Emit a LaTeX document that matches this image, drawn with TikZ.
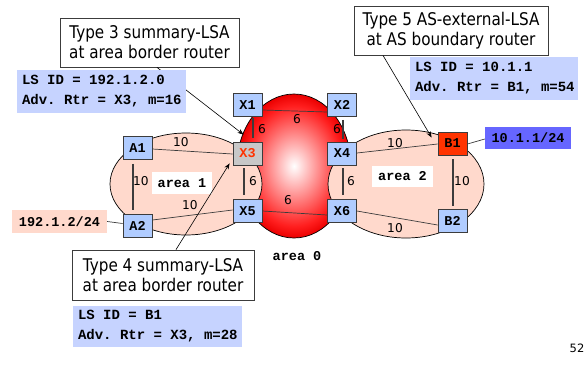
\documentclass[tikz,border=0pt]{standalone}
\usepackage{fontspec}
\setmainfont{DejaVu Sans}
\newfontfamily\callfont[FakeStretch=0.87]{DejaVu Sans}
\newfontfamily\lsamono{Liberation Mono}
\newcommand{\monob}[1]{\lsamono\bfseries\fontsize{#1}{20}\selectfont}
\newcommand{\ms}{\hspace*{0.6em}}
\usetikzlibrary{calc,arrows.meta}
\definecolor{peach}{RGB}{255,217,204}
\definecolor{infoblue}{RGB}{198,211,255}
\definecolor{routerblue}{RGB}{176,204,255}
\definecolor{netblue}{RGB}{102,102,255}
\definecolor{b1red}{RGB}{255,51,0}
\definecolor{x3gray}{RGB}{200,200,200}
\definecolor{x3text}{RGB}{255,51,0}
\definecolor{edgegray}{RGB}{60,60,60}
\definecolor{ballred}{RGB}{255,30,30}
\definecolor{balledge}{RGB}{235,0,0}
\pgfdeclareradialshading{redball}{\pgfpoint{0bp}{0bp}}{color(0bp)=(white); color(21bp)=(ballred); color(25bp)=(balledge); color(50bp)=(balledge)}
\begin{document}
\begin{tikzpicture}[x=1pt,y=-1pt,
  router/.style={draw=edgegray, line width=0.8pt, fill=routerblue, minimum width=29pt, minimum height=23pt, inner sep=0pt, font=\monob{13.5}},
  link/.style={draw=edgegray, line width=0.7pt},
  vlink/.style={draw=edgegray, line width=1.1pt},
  weight/.style={inner sep=0pt, text=black, font=\fontsize{12.2}{13}\selectfont},
  callout/.style={draw=edgegray, line width=0.8pt, fill=white, minimum height=49pt, inner sep=0pt, align=center, font=\callfont\fontsize{17.5}{20}\selectfont},
  info/.style={fill=infoblue, minimum height=43pt, inner xsep=5pt, inner ysep=0pt, align=left, font=\monob{14}},
  arealabel/.style={fill=white, inner sep=0pt, minimum height=22pt, font=\monob{13.5}},
  netlabel/.style={inner sep=0pt, minimum height=23pt, font=\monob{13.5}},
  callarrow/.style={draw=black, line width=0.6pt, -{Stealth[length=6pt,width=4.5pt]}}
]
\useasboundingbox (0,0) rectangle (586,365);

% area 0 backbone
\shade[shading=redball, draw=black, line width=0.7pt] (294,166) ellipse [x radius=57pt, y radius=72pt];
% areas 1 and 2
\draw[fill=peach, draw=black, line width=0.7pt] (186,184) ellipse [x radius=76pt, y radius=51pt];
\draw[fill=peach, draw=black, line width=0.7pt] (406,184) ellipse [x radius=78pt, y radius=54pt];

% routers
\node[router] (X1) at (247.5,105) {X1};
\node[router] (X2) at (342,105) {X2};
\node[router, fill=x3gray, text=x3text] (X3) at (247.5,153.5) {X3};
\node[router] (X4) at (342,153.5) {X4};
\node[router] (X5) at (247.5,211) {X5};
\node[router] (X6) at (342,211) {X6};
\node[router] (A1) at (137.5,148) {A1};
\node[router] (A2) at (137.5,225.5) {A2};
\node[router, fill=b1red] (B1) at (452.5,143.5) {B1};
\node[router] (B2) at (452.5,220.5) {B2};

% networks
\node[netlabel, fill=peach, minimum width=95pt] (net1) at (59.5,221.5) {192.1.2/24};
\node[netlabel, fill=netblue, minimum width=86pt, minimum height=22pt] (net2) at (528,138) {10.1.1/24};

% links
\draw[vlink] ($(X1.south)+(5.5,1.5)$) -- ($(X3.north)+(5.5,-4)$);
\draw[vlink] ($(X3.south)+(-3.5,3)$) -- ($(X5.north)+(-3.5,-4)$);
\draw[vlink] ($(X2.south)+(1,3)$) -- ($(X4.north)+(1,-3)$);
\draw[vlink] ($(X4.south)+(1,3)$) -- ($(X6.north)+(1,-4)$);
\draw[vlink] ($(A1.south)+(-4.5,4)$) -- ($(A2.north)+(-4.5,-4)$);
\draw[vlink] ($(B1.south)+(0.5,4)$) -- ($(B2.north)+(0.5,-3)$);
\draw[link] ($(X1.east)+(0,5)$) -- ($(X2.west)+(0,7)$);
\draw[link] (X5.east) -- ($(X6.west)+(0,4)$);
\draw[link] ($(A1.east)+(0,1)$) -- ($(X3.west)+(0,0.5)$);
\draw[link] ($(A2.east)+(0,-5.5)$) -- ($(X5.west)+(0,-1)$);
\draw[link] ($(X4.east)+(0,-0.5)$) -- ($(B1.west)+(0,0.5)$);
\draw[link] (X6.east) -- ($(B2.west)+(0,4.5)$);
\draw[link] (net1.east) -- ($(A2.west)+(0,-2)$);
\draw[link] ($(B1.east)+(0,0.5)$) -- ($(net2.west)+(0,1)$);

% weights
\node[weight] (w1) at (181,142) {10};
\node[weight] (w2) at (141,181) {10};
\node[weight] (w3) at (190,205) {10};
\node[weight] (w4) at (253,181.5) {6};
\node[weight] (w5) at (262,129) {6};
\node[weight] (w6) at (297,119) {6};
\node[weight] (w7) at (337,129) {6};
\node[weight] (w8) at (351,181) {6};
\node[weight] (w9) at (288,200) {6};
\node[weight] (w10) at (395,143) {10};
\node[weight] (w11) at (462,181) {10};
\node[weight] (w12) at (395,228) {10};

% area labels
\node[arealabel, minimum width=60pt] (ar1) at (182,183) {area\ms1};
\node[arealabel, minimum width=61pt, minimum height=21pt] (ar2) at (402.5,176.5) {area\ms2};
\node[inner sep=0pt, font=\monob{13.5}] (ar0) at (297,256) {area\ms0};

% callouts
\node[callout, minimum width=179pt] (t3) at (149.5,42.5) {Type 3 summary-LSA\\ at area border router};
\node[callout, minimum width=194pt] (t5) at (451,30.5) {Type 5 AS-external-LSA\\at AS boundary router};
\node[callout, minimum width=182pt, minimum height=50pt] (t4) at (163,275) {Type 4 summary-LSA\\ at area border router};

\draw[callarrow] ($(t3.south)+(7.5,0)$) -- ($(X3.north)+(-4,-7)$);
\draw[callarrow] ($(t5.south)+(-68,0)$) -- ($(B1.west)+(-6,-6)$);
\draw[callarrow] ($(t4.north)+(13,0)$) -- ($(X3.south west)+(-3,-2)$);

% LSA contents
\node[info, text width=159pt] (i1) at (101.5,91.5) {LS\ms ID\ms=\ms192.1.2.0\\Adv.\ms Rtr\ms=\ms X3,\ms m=16};
\node[info, text width=158pt] (i2) at (494,78.5) {LS\ms ID\ms=\ms10.1.1\\Adv.\ms Rtr\ms=\ms B1,\ms m=54};
\node[info, text width=159pt, minimum height=41pt] (i3) at (157.5,326.5) {LS\ms ID\ms=\ms B1\\Adv.\ms Rtr\ms=\ms X3,\ms m=28};

% page number
\node[inner sep=0pt, font=\fontsize{11.5}{12}\selectfont] (pg) at (577,348) {52};
\end{tikzpicture}
\end{document}
